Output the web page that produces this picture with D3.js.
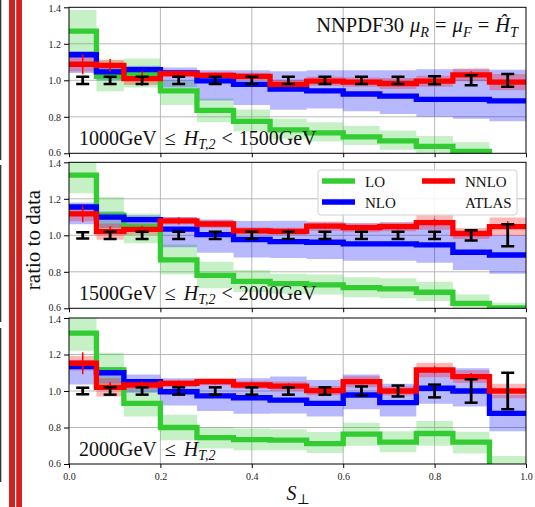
<!DOCTYPE html>
<html><head><meta charset="utf-8">
<script src="https://cdn.jsdelivr.net/npm/d3@7"></script>
<style>body{margin:0;background:#fff}svg{display:block}</style>
</head><body>
<svg id="c" width="535" height="507"></svg>
<script>
// ---- data ----
const binEdges = [0,0.06,0.12,0.2,0.28,0.36,0.44,0.52,0.6,0.68,0.76,0.84,0.92,1.0];
const binCenters = [0.03,0.09,0.16,0.24,0.32,0.40,0.48,0.56,0.64,0.72,0.80,0.88,0.96];
const xTicks = [0,0.2,0.4,0.6,0.8,1.0];
const yTicks = [0.6,0.8,1.0,1.2,1.4];
const seriesNames = ["LO","NLO","NNLO","ATLAS"];

// panel 1: 1000 GeV <= HT2 < 1500 GeV
const lo1      = [1.27,1.022,1.035,0.942,0.835,0.775,0.728,0.712,0.69,0.668,0.638,0.61,0.52];
const lo1Low   = [1.15,0.94,0.96,0.865,0.77,0.72,0.68,0.665,0.645,0.62,0.59,0.565,0.47];
const lo1High  = [1.385,1.11,1.12,1.0,0.9,0.84,0.79,0.77,0.75,0.725,0.695,0.66,0.58];
const nlo1     = [1.14,1.046,1.058,1.04,0.997,0.978,0.952,0.942,0.925,0.913,0.895,0.895,0.887];
const nlo1Low  = [1.04,1.0,1.01,0.96,0.89,0.865,0.838,0.845,0.83,0.815,0.8,0.79,0.775];
const nlo1High = [1.16,1.07,1.08,1.07,1.055,1.055,1.05,1.055,1.055,1.055,1.06,1.06,1.058];
const nnlo1    = [1.088,1.082,1.009,1.037,1.027,1.022,0.978,0.995,0.99,0.982,0.995,1.03,0.99];
const nnlo1Band= [0.04,0.03,0.035,0.02,0.02,0.02,0.025,0.025,0.025,0.03,0.03,0.035,0.045];
const nnlo1Stat= [0.055,0.035,0.04,0.015,0.015,0.015,0.015,0.015,0.015,0.015,0.015,0.02,0.025];
const atlas1Err= [0.02,0.02,0.02,0.02,0.02,0.02,0.02,0.02,0.02,0.02,0.022,0.027,0.035];

// panel 2: 1500 GeV <= HT2 < 2000 GeV
const lo2      = [1.33,1.11,1.045,0.865,0.78,0.748,0.735,0.728,0.713,0.706,0.688,0.627,0.602];
const lo2Low   = [1.23,1.03,0.956,0.785,0.71,0.69,0.68,0.675,0.66,0.655,0.64,0.585,0.56];
const lo2High  = [1.45,1.21,1.12,0.95,0.855,0.81,0.79,0.785,0.77,0.765,0.745,0.675,0.63];
const nlo2     = [1.155,1.1,1.086,1.034,1.004,0.977,0.965,0.962,0.953,0.953,0.947,0.907,0.892];
const nlo2Low  = [1.06,1.04,1.03,0.935,0.905,0.878,0.875,0.87,0.86,0.86,0.85,0.81,0.79];
const nlo2High = [1.18,1.13,1.11,1.1,1.087,1.078,1.08,1.07,1.065,1.07,1.07,1.01,1.0];
const nnlo2    = [1.117,1.02,1.033,1.079,1.062,1.024,1.022,1.05,1.042,1.047,1.07,1.01,1.047];
const nnlo2Band= [0.04,0.045,0.03,0.02,0.02,0.02,0.02,0.025,0.025,0.025,0.04,0.03,0.05];
const nnlo2Stat= [0.045,0.03,0.02,0.02,0.015,0.015,0.015,0.015,0.015,0.015,0.02,0.02,0.03];
const atlas2Err= [0.017,0.02,0.02,0.02,0.02,0.02,0.02,0.02,0.02,0.02,0.02,0.028,0.06];

// panel 3: 2000 GeV <= HT2
const lo3      = [1.317,1.115,0.932,0.80,0.745,0.734,0.731,0.712,0.764,0.72,0.767,0.72,0.55];
const lo3Low   = [1.22,1.03,0.86,0.73,0.685,0.675,0.675,0.66,0.70,0.665,0.70,0.658,0.46];
const lo3High  = [1.42,1.21,1.015,0.87,0.8,0.795,0.79,0.775,0.826,0.78,0.835,0.777,0.644];
const nlo3     = [1.134,1.10,1.051,0.996,0.973,0.963,0.95,0.932,0.978,0.936,1.015,1.0,0.877];
const nlo3Low  = [1.035,1.04,0.99,0.92,0.89,0.875,0.877,0.86,0.9,0.86,0.93,0.915,0.78];
const nlo3High = [1.17,1.13,1.09,1.07,1.06,1.07,1.08,1.06,1.09,1.04,1.11,1.125,0.98];
const nnlo3    = [1.152,1.02,1.033,1.042,1.051,1.033,1.027,1.002,1.051,1.0,1.115,1.079,1.0];
const nnlo3Band= [0.04,0.05,0.025,0.02,0.02,0.02,0.025,0.025,0.03,0.025,0.04,0.035,0.04];
const nnlo3Stat= [0.06,0.03,0.02,0.015,0.015,0.015,0.015,0.015,0.015,0.015,0.02,0.02,0.03];
const atlas3Err= [0.018,0.02,0.02,0.02,0.02,0.02,0.02,0.02,0.025,0.03,0.035,0.064,0.1];

// text pieces: [text, style(0 roman,1 italic,2 italic subscript), extra gap before]
const panelLabels = [
  [["1000GeV",0,0],["≤",0,8],["H",1,8],["T,2",2,0],["<",0,6],["1500GeV",0,6]],
  [["1500GeV",0,0],["≤",0,8],["H",1,8],["T,2",2,0],["<",0,6],["2000GeV",0,6]],
  [["2000GeV",0,0],["≤",0,8],["H",1,8],["T,2",2,0]]
];
const titleParts = [["NNPDF30",0,0],["μ",1,6],["R",2,0],["=",0,6],["μ",1,6],["F",2,0],["=",0,6],["Ĥ",1,6],["T",2,0]];

const panels = [
  {lo:lo1,loL:lo1Low,loH:lo1High,nlo:nlo1,nloL:nlo1Low,nloH:nlo1High,nnlo:nnlo1,nnloB:nnlo1Band,nnloS:nnlo1Stat,err:atlas1Err,label:panelLabels[0]},
  {lo:lo2,loL:lo2Low,loH:lo2High,nlo:nlo2,nloL:nlo2Low,nloH:nlo2High,nnlo:nnlo2,nnloB:nnlo2Band,nnloS:nnlo2Stat,err:atlas2Err,label:panelLabels[1]},
  {lo:lo3,loL:lo3Low,loH:lo3High,nlo:nlo3,nloL:nlo3Low,nloH:nlo3High,nnlo:nnlo3,nnloB:nnlo3Band,nnloS:nnlo3Stat,err:atlas3Err,label:panelLabels[2]}
];

// ---- layout ----
const FONT = "'Liberation Serif','DejaVu Serif',serif";
const svg = d3.select("#c");
const X0 = 69, X1 = 526, PH = 146;
const tops = [7.3, 162.3, 318];
const x = d3.scaleLinear().domain([0,1]).range([X0,X1]);
const colLO = "#33cc33", colNLO = "#0000ff", colNNLO = "#ff0000";
const LW = 5.3;

// slide remnants on the left
svg.append("rect").attr("x",9).attr("y",0).attr("width",13).attr("height",507).attr("fill","#d0231f");
svg.append("rect").attr("x",15).attr("y",0).attr("width",1.2).attr("height",507).attr("fill","#fff");
[[0,160],[165,322],[328,482]].forEach(s=>{
  svg.append("rect").attr("x",0).attr("y",s[0]).attr("width",1.3).attr("height",s[1]-s[0]).attr("fill","#333");
});

function richText(g, parts, size){
  let sub = false;
  parts.forEach(p=>{
    const ts = g.append("tspan").text(p[0]);
    let dy = 0;
    if(p[1]===2){ ts.attr("font-style","italic").attr("font-size",size*0.7); if(!sub) dy = size*0.22; sub = true; }
    else { if(p[1]===1) ts.attr("font-style","italic"); if(sub) dy = -size*0.22; sub = false; }
    ts.attr("dy",dy).attr("dx",p[2]||0);
  });
}

panels.forEach((P,pi)=>{
  const top = tops[pi];
  const y = d3.scaleLinear().domain([0.6,1.4]).range([top+PH, top]);
  const g = svg.append("g");
  const cid = "clip"+pi;
  svg.append("clipPath").attr("id",cid).append("rect").attr("x",X0).attr("y",top).attr("width",X1-X0).attr("height",PH);

  // grid
  const grid = g.append("g").attr("stroke","#b0b0b0").attr("stroke-width",0.9);
  [0.2,0.4,0.6,0.8].forEach(v=>grid.append("line").attr("x1",x(v)).attr("x2",x(v)).attr("y1",top).attr("y2",top+PH));
  [0.8,1.0,1.2].forEach(v=>grid.append("line").attr("x1",X0).attr("x2",X1).attr("y1",y(v)).attr("y2",y(v)));

  const plot = g.append("g").attr("clip-path",`url(#${cid})`);
  const idx = i=>Math.min(i,12);
  const area = (lowArr, highArr)=> d3.area().curve(d3.curveStepAfter)
      .x(d=>x(d)).y0((d,i)=>y(lowArr[idx(i)])).y1((d,i)=>y(highArr[idx(i)]))(binEdges);
  const line = arr => d3.line().curve(d3.curveStepAfter).x(d=>x(d)).y((d,i)=>y(arr[idx(i)]))(binEdges);

  const nnloL = P.nnlo.map((v,i)=>v-P.nnloB[i]);
  const nnloH = P.nnlo.map((v,i)=>v+P.nnloB[i]);

  plot.append("path").attr("d",area(P.loL,P.loH)).attr("fill",colLO).attr("fill-opacity",0.28);
  plot.append("path").attr("d",area(P.nloL,P.nloH)).attr("fill",colNLO).attr("fill-opacity",0.28);
  plot.append("path").attr("d",area(nnloL,nnloH)).attr("fill",colNNLO).attr("fill-opacity",0.28);

  plot.append("path").attr("d",line(P.lo)).attr("fill","none").attr("stroke",colLO).attr("stroke-width",LW);
  plot.append("path").attr("d",line(P.nlo)).attr("fill","none").attr("stroke",colNLO).attr("stroke-width",LW);
  plot.append("path").attr("d",line(P.nnlo)).attr("fill","none").attr("stroke",colNNLO).attr("stroke-width",LW);

  // NNLO statistical error bars
  plot.selectAll(null).data(binCenters).enter().append("line")
    .attr("x1",d=>x(d)).attr("x2",d=>x(d))
    .attr("y1",(d,i)=>y(P.nnlo[i]-P.nnloS[i])).attr("y2",(d,i)=>y(P.nnlo[i]+P.nnloS[i]))
    .attr("stroke",colNNLO).attr("stroke-width",1.5);

  // ATLAS data (ratio = 1)
  const eb = plot.append("g").attr("stroke","#000");
  binCenters.forEach((c,i)=>{
    const cx = x(c), ya = y(1+P.err[i]), yb = y(1-P.err[i]);
    eb.append("line").attr("x1",cx).attr("x2",cx).attr("y1",ya).attr("y2",yb).attr("stroke-width",2.8);
    eb.append("line").attr("x1",cx-6.5).attr("x2",cx+6.5).attr("y1",ya).attr("y2",ya).attr("stroke-width",2.5);
    eb.append("line").attr("x1",cx-6.5).attr("x2",cx+6.5).attr("y1",yb).attr("y2",yb).attr("stroke-width",2.5);
  });

  // frame
  g.append("rect").attr("x",X0).attr("y",top).attr("width",X1-X0).attr("height",PH)
    .attr("fill","none").attr("stroke","#000").attr("stroke-width",1);

  // axes
  const ya = g.append("g").attr("transform",`translate(${X0},0)`)
    .call(d3.axisLeft(y).tickValues(yTicks).tickFormat(d3.format(".1f")).tickSize(5).tickPadding(3));
  const xa = g.append("g").attr("transform",`translate(0,${top+PH})`)
    .call(d3.axisBottom(x).tickValues(xTicks).tickFormat(pi===2?d3.format(".1f"):()=>"").tickSize(4).tickPadding(5));
  [ya,xa].forEach(a=>{
    a.select(".domain").remove();
    a.selectAll("text").attr("font-family",FONT).attr("font-size",10).attr("fill","#222");
    a.selectAll("line").attr("stroke","#000");
  });
  // nudge the crowded end labels apart slightly
  ya.selectAll(".tick text").attr("dy",d=> d===0.6 ? "0.2em" : d===1.4 ? "0.42em" : "0.32em");

  // panel label
  const lt = g.append("text").attr("x",79).attr("y",top+PH-8.5)
    .attr("font-family",FONT).attr("font-size",20).attr("fill","#111");
  richText(lt, P.label, 20);
});

// title in first panel
const tt = svg.append("text").attr("x",518).attr("y",32).attr("text-anchor","end")
  .attr("font-family",FONT).attr("font-size",20.5).attr("fill","#111");
richText(tt, titleParts, 20.5);

// legend
const lg = svg.append("g");
lg.append("rect").attr("x",318).attr("y",170).attr("width",199).attr("height",45).attr("rx",3)
  .attr("fill","#fff").attr("fill-opacity",0.85).attr("stroke","#d0d0d0");
const legendItems = [
  {name:seriesNames[0], color:colLO, lx:322, ty:181},
  {name:seriesNames[1], color:colNLO, lx:322, ty:202},
  {name:seriesNames[2], color:colNNLO, lx:422, ty:181},
  {name:seriesNames[3], color:null, lx:422, ty:202}
];
legendItems.forEach(it=>{
  if(it.color) lg.append("line").attr("x1",it.lx).attr("x2",it.lx+33).attr("y1",it.ty).attr("y2",it.ty)
      .attr("stroke",it.color).attr("stroke-width",LW);
  lg.append("text").attr("x",it.lx+43).attr("y",it.ty+5.5).text(it.name)
    .attr("font-family",FONT).attr("font-size",15).attr("fill","#111");
});

// axis labels
svg.append("text").attr("transform","translate(40,240) rotate(-90)").attr("text-anchor","middle")
  .attr("font-family",FONT).attr("font-size",21).attr("fill","#111").text("ratio to data");
const xl = svg.append("text").attr("x",298).attr("y",500).attr("text-anchor","middle")
  .attr("font-family",FONT).attr("font-size",20).attr("fill","#111");
richText(xl, [["S",1,0],["⊥",2,0]], 20);
</script>
</body></html>
